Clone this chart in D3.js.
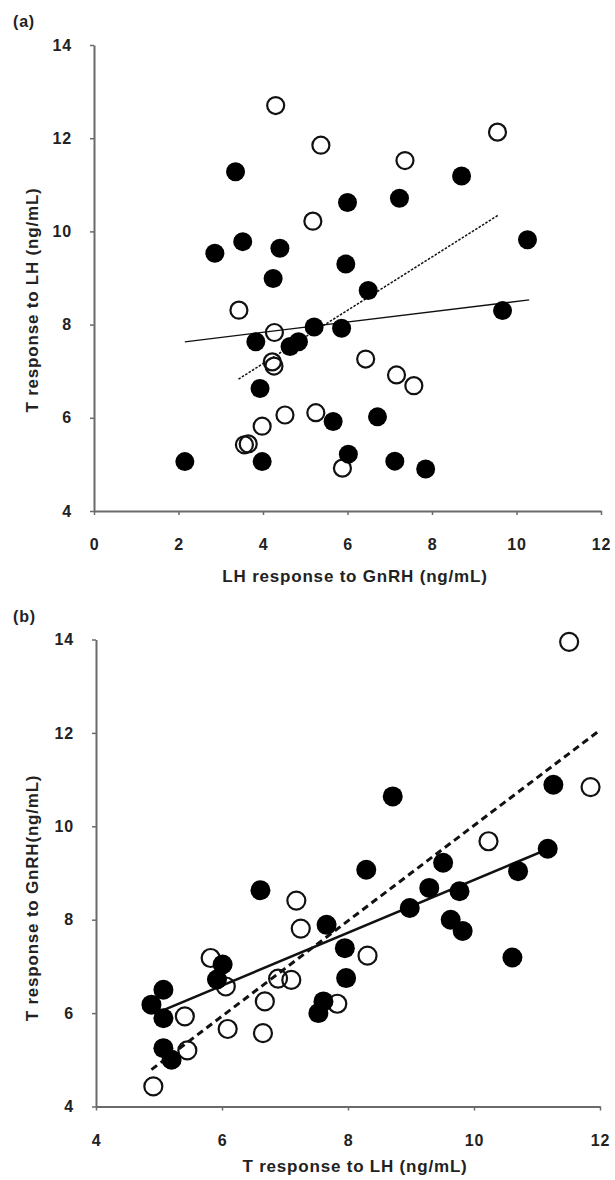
<!DOCTYPE html>
<html>
<head>
<meta charset="utf-8">
<script src="https://cdn.jsdelivr.net/npm/d3@7"></script>
<style>
  html, body { margin: 0; padding: 0; background: #fff; }
  svg { display: block; }
  text { font-family: "Liberation Sans", Arial, sans-serif; font-weight: bold; fill: #222; }
</style>
</head>
<body>
<script>
// ---------- Panel (a) data ----------
const aFilledX = [3.35, 2.86, 3.52, 4.40, 4.24, 3.83, 4.64, 4.84, 5.21, 5.86, 3.93, 5.66, 2.15, 3.98,
                  8.70, 7.23, 6.00, 10.26, 5.96, 6.49, 9.67, 6.71, 6.02, 7.12, 7.85];
const aFilledY = [11.28, 9.53, 9.78, 9.64, 8.99, 7.63, 7.53, 7.63, 7.95, 7.92, 6.63, 5.92, 5.06, 5.06,
                  11.19, 10.71, 10.62, 9.82, 9.30, 8.73, 8.30, 6.02, 5.22, 5.07, 4.90];
const aOpenX = [4.30, 5.37, 5.18, 3.43, 4.27, 4.22, 4.26, 3.98, 4.52, 5.25, 3.56, 3.65, 5.88,
                9.55, 7.36, 6.43, 7.16, 7.57];
const aOpenY = [12.70, 11.85, 10.22, 8.31, 7.83, 7.20, 7.11, 5.82, 6.06, 6.11, 5.42, 5.44, 4.92,
                12.13, 11.52, 7.26, 6.92, 6.69];
const aSolidLine = [[2.15, 7.63], [10.30, 8.53]];
const aDashLine = [[3.42, 6.83], [9.57, 10.35]];
const aXTicks = [0, 2, 4, 6, 8, 10, 12];
const aYTicks = [4, 6, 8, 10, 12, 14];

// ---------- Panel (b) data ----------
const bFilledX = [6.61, 7.66, 7.95, 7.97, 6.01, 5.92, 5.07, 4.88, 5.07, 5.07, 5.20, 7.61, 7.53,
                  8.71, 11.26, 11.17, 8.29, 9.51, 9.29, 9.77, 8.98, 10.70, 9.63, 9.82, 10.61];
const bFilledY = [8.63, 7.89, 7.39, 6.75, 7.04, 6.72, 6.50, 6.18, 5.89, 5.25, 5.00, 6.25, 6.00,
                  10.64, 10.89, 9.52, 9.07, 9.22, 8.68, 8.61, 8.25, 9.04, 8.00, 7.76, 7.19];
const bOpenX = [7.18, 7.25, 5.82, 6.06, 5.41, 6.89, 7.10, 6.68, 6.09, 6.65, 5.45, 4.91, 7.83,
                11.51, 11.85, 10.23, 8.31];
const bOpenY = [8.41, 7.81, 7.18, 6.57, 5.93, 6.74, 6.71, 6.25, 5.66, 5.57, 5.20, 4.43, 6.20,
                13.95, 10.84, 9.68, 7.23];
const bSolidLine = [[5.08, 6.07], [11.15, 9.50]];
const bDashLine = [[4.88, 4.79], [12.01, 12.07]];
const bXTicks = [4, 6, 8, 10, 12];
const bYTicks = [4, 6, 8, 10, 12, 14];

const W = 615, H = 1180;
const svg = d3.select("body").append("svg").attr("width", W).attr("height", H);

function styleText(sel, size) {
  sel.style("font-size", size + "px").style("font-weight", "bold")
     .style("letter-spacing", "0.8px")
     .style("font-family", '"Liberation Sans", Arial, sans-serif').attr("fill", "#222");
}

function panel(cfg) {
  const g = svg.append("g");
  const x = d3.scaleLinear().domain(cfg.xDomain).range(cfg.xRange);
  const y = d3.scaleLinear().domain(cfg.yDomain).range(cfg.yRange);

  // axes
  const xAxis = d3.axisBottom(x).tickValues(cfg.xTicks).tickSize(4).tickSizeOuter(0).tickPadding(24).tickFormat(d3.format("d"));
  const yAxis = d3.axisLeft(y).tickValues(cfg.yTicks).tickSize(4).tickSizeOuter(0).tickPadding(18).tickFormat(d3.format("d"));
  const gx = g.append("g").attr("transform", `translate(0,${cfg.yRange[0]})`).call(xAxis);
  const gy = g.append("g").attr("transform", `translate(${cfg.xRange[0]},0)`).call(yAxis);
  [gx, gy].forEach(a => {
    a.select(".domain").attr("stroke", "#6a6a6a").attr("stroke-width", 2);
    a.selectAll(".tick line").attr("stroke", "#6a6a6a").attr("stroke-width", 1.5);
    styleText(a.selectAll(".tick text"), 16);
  });

  // fitted lines
  const line = d3.line().x(d => x(d[0])).y(d => y(d[1]));
  g.append("path").datum(cfg.solid).attr("d", line).attr("fill", "none")
    .attr("stroke", "#111").attr("stroke-width", cfg.solidW);
  g.append("path").datum(cfg.dash).attr("d", line).attr("fill", "none")
    .attr("stroke", "#111").attr("stroke-width", cfg.dashW).attr("stroke-dasharray", cfg.dashArray);

  // points
  const open = cfg.openX.map((v, i) => [v, cfg.openY[i]]);
  const filled = cfg.filledX.map((v, i) => [v, cfg.filledY[i]]);
  g.append("g").selectAll("circle").data(open).join("circle")
    .attr("cx", d => x(d[0])).attr("cy", d => y(d[1])).attr("r", cfg.r - 1)
    .attr("fill", "none").attr("stroke", "#111").attr("stroke-width", 2.2);
  g.append("g").selectAll("circle").data(filled).join("circle")
    .attr("cx", d => x(d[0])).attr("cy", d => y(d[1])).attr("r", cfg.r)
    .attr("fill", "#000");

  // labels
  styleText(g.append("text").attr("x", 13).attr("y", cfg.panelLabelY).text(cfg.panelLabel), 16);
  styleText(g.append("text").attr("x", cfg.xTitleX).attr("y", cfg.xTitleY)
    .attr("text-anchor", "middle").text(cfg.xTitle), 17);
  styleText(g.append("text").attr("transform", `translate(38,${cfg.yTitleC}) rotate(-90)`)
    .attr("text-anchor", "middle").text(cfg.yTitle), 17);
}

panel({
  xDomain: [0, 12], xRange: [94, 601], yDomain: [4, 14], yRange: [511, 45],
  xTicks: aXTicks, yTicks: aYTicks,
  filledX: aFilledX, filledY: aFilledY, openX: aOpenX, openY: aOpenY,
  solid: aSolidLine, dash: aDashLine, solidW: 1.3, dashW: 1.5, dashArray: "2.5,1.5",
  r: 9.5,
  panelLabel: "(a)", panelLabelY: 27,
  xTitle: "LH response to GnRH (ng/mL)", xTitleX: 355, xTitleY: 582,
  yTitle: "T response to LH (ng/mL)", yTitleC: 300
});

panel({
  xDomain: [4, 12], xRange: [96, 600], yDomain: [4, 14], yRange: [1106.5, 639.5],
  xTicks: bXTicks, yTicks: bYTicks,
  filledX: bFilledX, filledY: bFilledY, openX: bOpenX, openY: bOpenY,
  solid: bSolidLine, dash: bDashLine, solidW: 2.6, dashW: 3, dashArray: "7,4.5",
  r: 10,
  panelLabel: "(b)", panelLabelY: 622,
  xTitle: "T response to LH (ng/mL)", xTitleX: 355, xTitleY: 1172,
  yTitle: "T response to GnRH(ng/mL)", yTitleC: 898
});
</script>
</body>
</html>
